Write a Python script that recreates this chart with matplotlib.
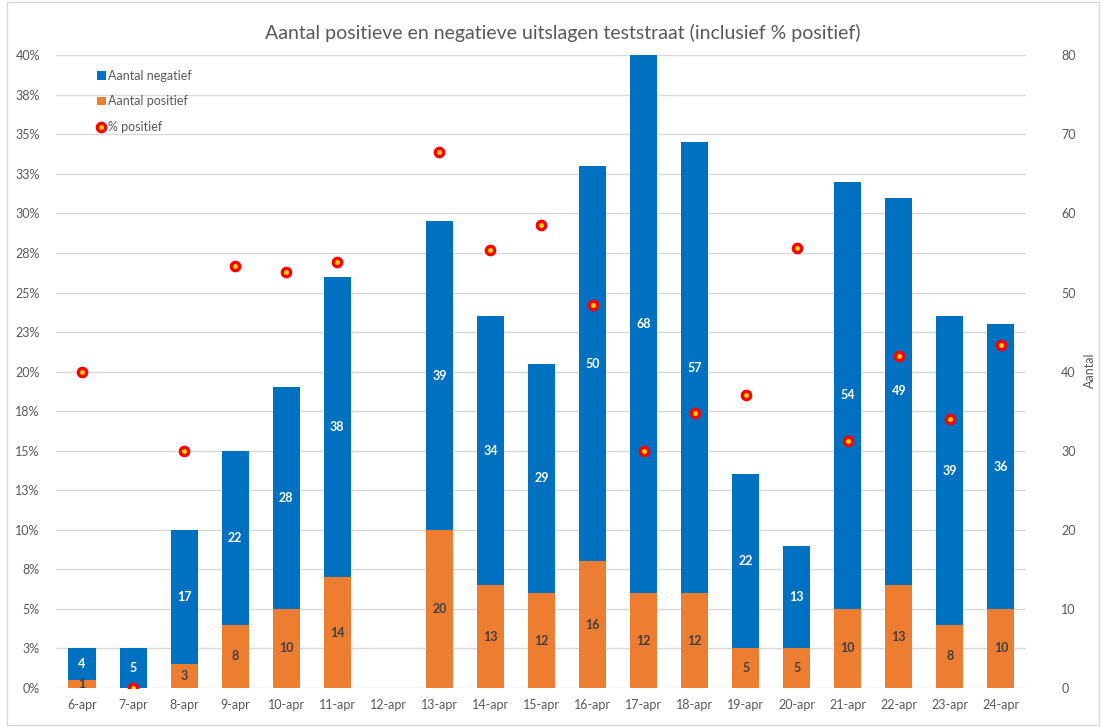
import matplotlib
matplotlib.use("Agg")
import matplotlib.pyplot as plt
import numpy as np
from matplotlib.patches import Rectangle
from matplotlib.lines import Line2D

plt.rcParams['font.family'] = ['Lato', 'DejaVu Sans']

dates = ["6-apr", "7-apr", "8-apr", "9-apr", "10-apr", "11-apr", "12-apr", "13-apr",
         "14-apr", "15-apr", "16-apr", "17-apr", "18-apr", "19-apr", "20-apr",
         "21-apr", "22-apr", "23-apr", "24-apr"]
positief = [1, 0, 3, 8, 10, 14, 0, 20, 13, 12, 16, 12, 12, 5, 5, 10, 13, 8, 10]
negatief = [4, 5, 17, 22, 28, 38, 0, 39, 34, 29, 50, 68, 57, 22, 13, 54, 49, 39, 36]
pct_positief = [20.0, 0.0, 15.0, 26.7, 26.3, 26.9, np.nan, 33.9, 27.7, 29.3, 24.2,
                15.0, 17.4, 18.5, 27.8, 15.6, 21.0, 17.0, 21.7]

BLUE = '#0070C0'
ORANGE = '#ED7D31'
GREY = '#595959'

fig = plt.figure(figsize=(11.03, 7.27), dpi=100)
ax = fig.add_axes([0.0512, 0.0536, 0.8794, 0.8704])
ax2 = ax.twinx()
x = np.arange(len(dates))
w = 0.53

bp = ax.bar(x, positief, w, color=ORANGE, label='Aantal positief', zorder=2)
bn = ax.bar(x, negatief, w, bottom=positief, color=BLUE, label='Aantal negatief', zorder=2)

for i in range(len(dates)):
    if positief[i] + negatief[i] == 0:
        continue
    if positief[i] > 0:
        ax.text(x[i], positief[i] / 2, str(positief[i]), ha='center', va='center',
                fontsize=9, fontweight='bold', color='#404040', zorder=3)
    if negatief[i] > 0:
        ax.text(x[i], positief[i] + negatief[i] / 2, str(negatief[i]), ha='center',
                va='center', fontsize=9, fontweight='bold', color='white', zorder=3)

ax.set_xlim(-0.5, len(dates) - 0.5)
ax.set_ylim(0, 80)
ax.set_yticks(np.arange(0, 81, 10))
ax.set_yticks(np.arange(0, 81, 5), minor=True)
ax.yaxis.tick_right()
ax.tick_params(axis='y', which='both', length=0, labelsize=9, labelcolor=GREY, pad=25,
               left=False, labelleft=False, right=False, labelright=True)
ax.tick_params(axis='y', which='minor', labelright=False)
ax.grid(axis='y', which='both', color='#D9D9D9', lw=1)
ax.set_axisbelow(True)
ax.set_xticks(x)
ax.set_xticklabels(dates)
ax.tick_params(axis='x', length=0, labelsize=9, labelcolor=GREY, pad=8)
for s in ax.spines.values():
    s.set_visible(False)

fig.text(1090 / 1103, 1 - 370 / 727, 'Aantal', rotation=90, ha='center', va='center',
         fontsize=9, color=GREY)

ax2.set_ylim(0, 40)
ticks = np.arange(0, 17) * 2.5
ax2.set_yticks(ticks)
ax2.set_yticklabels([f"{int(t + 0.5)}%" for t in ticks])
ax2.yaxis.tick_left()
ax2.tick_params(axis='y', length=0, labelsize=9, labelcolor=GREY, pad=12,
                right=False, labelright=False, left=False, labelleft=True)
for s in ax2.spines.values():
    s.set_visible(False)
ax2.plot(x, pct_positief, ls='none', marker='o', ms=6, mfc='#FFD400', mec='#FF0000',
         mew=2.4, zorder=5, label='% positief')

handles = [bn, bp, Line2D([], [], ls='none', marker='o', ms=6, mfc='#FFD400',
                          mec='#FF0000', mew=2.4)]
leg = ax2.legend(handles, ['Aantal negatief', 'Aantal positief', '% positief'],
                 loc='upper left', bbox_to_anchor=(0.03, 0.995), frameon=False,
                 fontsize=9, labelspacing=1.1, handlelength=0.7, handletextpad=0.2,
                 labelcolor=GREY)

fig.text(0.51, 0.955, 'Aantal positieve en negatieve uitslagen teststraat (inclusief % positief)',
         ha='center', va='center', fontsize=14, color=GREY)

fig.patches.append(Rectangle((0.006, 0.003), 0.99, 0.994, transform=fig.transFigure,
                             fill=False, ec='#D9D9D9', lw=1))

fig.savefig('out.png', dpi=100)
